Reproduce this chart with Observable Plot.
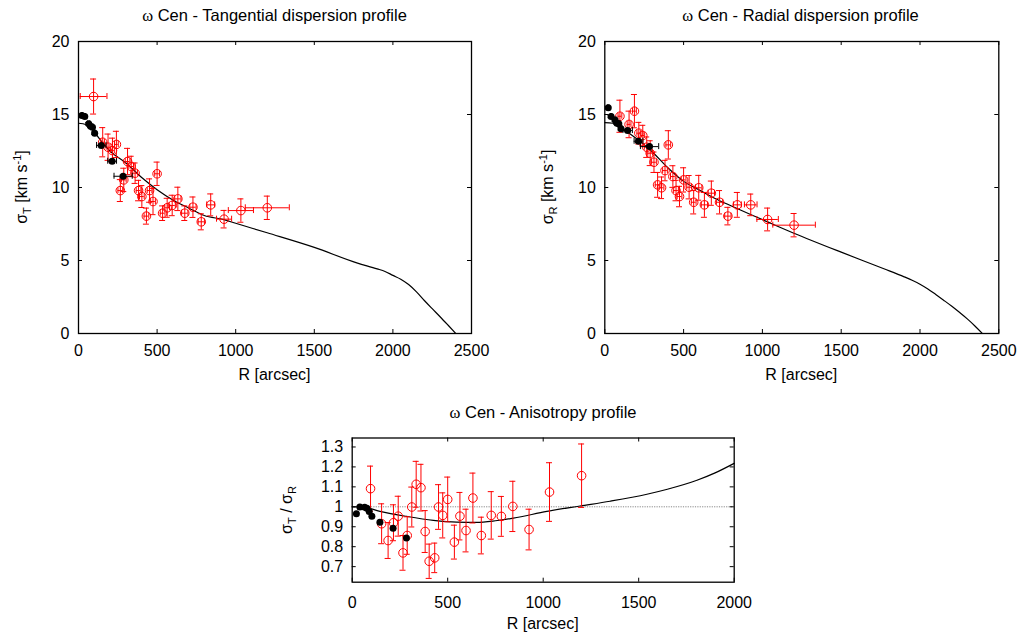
<!DOCTYPE html>
<html><head><meta charset="utf-8">
<script src="https://cdn.jsdelivr.net/npm/d3@7"></script>
<script src="https://cdn.jsdelivr.net/npm/@observablehq/plot@0.6"></script>
<style>
body{margin:0;background:#fff;}
#wrap{position:relative;width:1025px;height:635px;overflow:hidden;font-family:"Liberation Sans",Arial,sans-serif;color:#000;background:#fff;}
#wrap svg{position:absolute;left:0;top:0;background:transparent;}
.lbl{position:absolute;font-size:16px;white-space:nowrap;transform:translate(-50%,-50%);line-height:1;}
.ttl{font-size:16.5px;}
.rot{transform:translate(-50%,-50%) rotate(-90deg);}
.om{font-family:"Liberation Serif","DejaVu Serif",serif;}
sub,sup{font-size:11px;line-height:0;}
</style></head><body><div id="wrap"></div>
<script>
// ---- data ----
const radii   = [96,154,188,216,241,266,288,312,335,360,382,403,432,452,474,500,535,564,596,632,676,728,781,841,926,1033,1201];
const sigmaT  = [16.23,13.1,12.76,12.53,12.95,9.79,10.52,11.78,11.44,10.98,9.79,9.38,8.04,9.79,9.04,10.94,8.24,8.61,8.77,9.22,8.24,8.65,7.65,8.81,7.83,8.42,8.61];
const errT    = [1.2,1.0,0.9,0.85,0.9,0.75,0.8,0.9,0.7,0.7,0.7,0.75,0.55,0.8,0.9,0.8,0.5,0.65,0.7,0.8,0.5,0.7,0.55,0.75,0.6,0.8,0.8];
const xerrT   = [85,12,12,12,12,15,15,15,15,15,15,15,15,15,15,15,15,15,20,20,20,20,20,25,48,80,140];
const sigmaR  = [14.88,14.32,15.23,13.72,13.56,12.76,12.35,11.73,10.18,9.98,11.16,12.92,10.75,9.79,9.38,10.52,10.02,8.99,9.98,8.81,9.61,8.99,8.04,8.81,8.81,7.81,7.42];
const errR    = [1.1,0.91,1.14,0.74,0.7,0.7,0.85,0.7,0.85,0.74,0.7,0.97,0.74,0.7,0.7,0.83,0.8,0.8,0.85,0.85,0.83,0.8,0.6,0.85,0.74,0.78,0.8];
const xerrR   = [12,12,12,12,12,15,15,15,15,15,15,15,15,15,15,15,15,15,20,20,20,20,20,25,40,68,135];
const ratio   = [1.091,0.915,0.831,0.92,0.953,0.769,0.856,0.999,1.113,1.096,0.876,0.727,0.744,0.999,0.957,1.037,0.823,0.953,0.881,1.044,0.856,0.957,0.952,1.002,0.886,1.074,1.156];
const errRatio= [0.113,0.10,0.09,0.09,0.10,0.087,0.094,0.10,0.115,0.117,0.105,0.086,0.074,0.112,0.113,0.112,0.085,0.119,0.107,0.125,0.092,0.119,0.10,0.126,0.102,0.147,0.159];

const innerR      = [22,40,65,77,89,103,145,214,284];
const innerSigT   = [14.93,14.86,14.36,14.2,14.13,13.72,12.88,11.8,10.77];
const innerSigR   = [15.46,14.86,14.63,14.4,14.36,14.02,13.9,13.17,12.8];
const innerXerr   = [4,4,6,6,6,6,30,28,58];
const innerRatio  = [0.965,0.999,0.998,0.993,0.976,0.953,0.923,0.893,0.843];

const modelR   = [0,50,100,150,200,300,400,500,600,700,800,925,1000,1200,1500,1775,1900,1950,2000,2050,2100,2150,2200,2250,2300,2350,2400];
const modelT   = [14.4,14.3,13.8,13.1,12.5,11.7,10.7,9.85,9.15,8.6,8.08,7.8,7.55,6.9,5.9,4.82,4.43,4.25,3.98,3.72,3.35,2.85,2.26,1.7,1.15,0.58,0.0];
const modelRad = [14.45,14.4,14.1,13.75,13.35,12.45,11.35,10.42,9.83,9.25,8.75,8.15,7.8,6.87,5.57,4.42,3.88,3.65,3.38,3.05,2.67,2.28,1.88,1.45,1.0,0.5,-0.05];
const anisoR   = [0,50,145,285,425,547,650,750,844,1019,1193,1350,1543,1650,1805,1900,2000];
const anisoM   = [1.0,1.0,0.977,0.952,0.932,0.923,0.922,0.93,0.943,0.977,1.004,1.028,1.063,1.088,1.133,1.17,1.218];

const xTicksTop = [0,500,1000,1500,2000,2500];
const yTicksTop = [0,5,10,15,20];
const xTicksBot = [0,500,1000,1500,2000];
const yTicksBot = [0.7,0.8,0.9,1.0,1.1,1.2,1.3];

// ---- helpers ----
const W = 1025, H = 635;
const RED = "#ff0000";
const wrap = document.getElementById("wrap");

function errorMarks(rows, color, cap, withX) {
  const m = [
    Plot.ruleX(rows, {x: "r", y1: d => d.v - d.e, y2: d => d.v + d.e, stroke: color, strokeWidth: 1}),
    Plot.ruleY(rows, {y: d => d.v - d.e, x1: "r", x2: "r", insetLeft: -cap, insetRight: -cap, stroke: color, strokeWidth: 1}),
    Plot.ruleY(rows, {y: d => d.v + d.e, x1: "r", x2: "r", insetLeft: -cap, insetRight: -cap, stroke: color, strokeWidth: 1})
  ];
  if (withX) {
    m.push(
      Plot.ruleY(rows, {y: "v", x1: d => d.r - d.xe, x2: d => d.r + d.xe, stroke: color, strokeWidth: 1}),
      Plot.ruleX(rows, {x: d => d.r - d.xe, y1: "v", y2: "v", insetTop: -cap, insetBottom: -cap, stroke: color, strokeWidth: 1}),
      Plot.ruleX(rows, {x: d => d.r + d.xe, y1: "v", y2: "v", insetTop: -cap, insetBottom: -cap, stroke: color, strokeWidth: 1})
    );
  }
  return m;
}

function frameMarks(xt, yt, fw, fh, xPad) {
  const fmt = d => String(d);
  return [
    Plot.tickX(xt, {x: d => d, insetTop: fh - 4, stroke: "#000"}),
    Plot.tickX(xt, {x: d => d, insetBottom: fh - 4, stroke: "#000"}),
    Plot.tickY(yt, {y: d => d, insetRight: fw - 4, stroke: "#000"}),
    Plot.tickY(yt, {y: d => d, insetLeft: fw - 4, stroke: "#000"}),
    Plot.axisX({ticks: xt, tickSize: 0, tickPadding: xPad, tickFormat: fmt, fontSize: 16, label: null}),
    Plot.axisY({ticks: yt, tickSize: 0, tickPadding: 9, tickFormat: fmt, fontSize: 16, label: null}),
    Plot.frame({stroke: "#000", strokeWidth: 1.3})
  ];
}

function makeTop(left, right, sig, err, xerr, innerSig, model) {
  const top = 41, bottom = 333;
  const rows = radii.map((r, i) => ({r, v: sig[i], e: err[i], xe: xerr[i]}));
  const inner = innerR.map((r, i) => ({r, v: innerSig[i], e: 0.08, xe: innerXerr[i]}));
  const line = modelR.map((r, i) => ({r, v: model[i]}));
  return Plot.plot({
    width: W, height: H,
    marginLeft: left, marginRight: W - right, marginTop: top, marginBottom: H - bottom,
    style: {fontFamily: "Liberation Sans, Arial, sans-serif", fontSize: "16px", background: "transparent", color: "#000"},
    x: {domain: [0, 2500]},
    y: {domain: [0, 20]},
    marks: [
      Plot.line(line, {x: "r", y: "v", stroke: "#000", strokeWidth: 1.2, curve: "monotone-x", clip: true}),
      ...errorMarks(rows, RED, 3, true),
      Plot.dot(rows, {x: "r", y: "v", r: 4.3, stroke: RED, fill: "none", strokeWidth: 1}),
      ...errorMarks(inner, "#000", 3, true),
      Plot.dot(inner, {x: "r", y: "v", r: 3.5, fill: "#000", stroke: "none"}),
      ...frameMarks(xTicksTop, yTicksTop, right - left, bottom - top, 11)
    ]
  });
}

const p1 = makeTop(78, 471, sigmaT, errT, xerrT, innerSigT, modelT);
const p2 = makeTop(604.3, 998.3, sigmaR, errR, xerrR, innerSigR, modelRad);

// bottom panel
const bl = 351.7, br = 733.7, bt = 437.5, bb = 581.7;
const aRows = radii.map((r, i) => ({r, v: ratio[i], e: errRatio[i]}));
const aInner = innerR.map((r, i) => ({r, v: innerRatio[i]}));
const aLine = anisoR.map((r, i) => ({r, v: anisoM[i]}));
const p3 = Plot.plot({
  width: W, height: H,
  marginLeft: bl, marginRight: W - br, marginTop: bt, marginBottom: H - bb,
  style: {fontFamily: "Liberation Sans, Arial, sans-serif", fontSize: "16px", background: "transparent", color: "#000"},
  x: {domain: [0, 2000]},
  y: {domain: [0.622, 1.345]},
  marks: [
    Plot.ruleY([1], {stroke: "#888", strokeWidth: 1, strokeDasharray: "1.2,1.2"}),
    Plot.line(aLine, {x: "r", y: "v", stroke: "#000", strokeWidth: 1.2, curve: "monotone-x"}),
    ...errorMarks(aRows, RED, 3, false),
    Plot.dot(aRows, {x: "r", y: "v", r: 4.3, stroke: RED, fill: "none", strokeWidth: 1}),
    Plot.dot(aInner, {x: "r", y: "v", r: 3.5, fill: "#000", stroke: "none"}),
    ...frameMarks(xTicksBot, yTicksBot, br - bl, bb - bt, 14)
  ]
});

[p1, p2, p3].forEach(p => wrap.appendChild(p));

// text labels
const labels = [
  ['<span class="om">ω</span> Cen - Tangential dispersion profile', 274.5, 15.7, "ttl"],
  ['<span class="om">ω</span> Cen - Radial dispersion profile', 800.5, 15.7, "ttl"],
  ['<span class="om">ω</span> Cen - Anisotropy profile', 543, 413, "ttl"],
  ['R [arcsec]', 274.5, 375, ""],
  ['R [arcsec]', 801.3, 375, ""],
  ['R [arcsec]', 542.7, 624, ""],
  ['σ<sub>T</sub> [km s<sup>-1</sup>]', 21.5, 187, "rot"],
  ['σ<sub>R</sub> [km s<sup>-1</sup>]', 548, 187, "rot"],
  ['σ<sub>T</sub> / σ<sub>R</sub>', 287, 510, "rot"]
];
for (const [html, x, y, cls] of labels) {
  const d = document.createElement("div");
  d.className = "lbl " + cls;
  d.innerHTML = html;
  d.style.left = x + "px";
  d.style.top = y + "px";
  wrap.appendChild(d);
}
</script></body></html>
